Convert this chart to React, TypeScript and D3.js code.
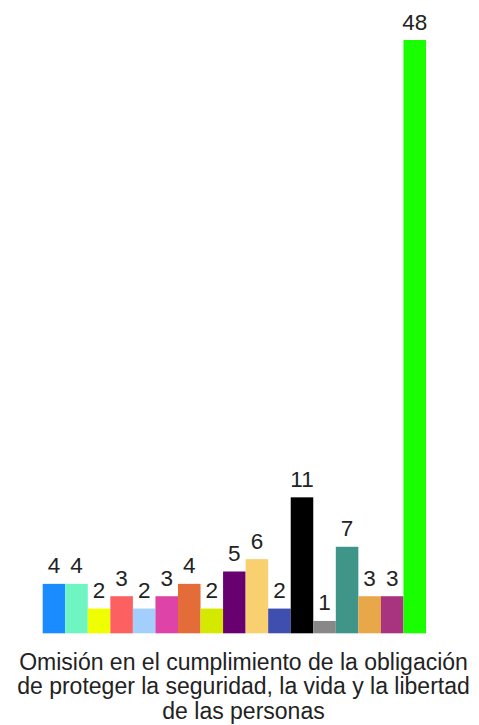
import React from "react";
import * as d3 from "d3";

const categories = ["c1","c2","c3","c4","c5","c6","c7","c8","c9","c10","c11","c12","c13","c14","c15","c16","c17"];
const values = [4, 4, 2, 3, 2, 3, 4, 2, 5, 6, 2, 11, 1, 7, 3, 3, 48];
const colors = ["#1a8cff","#6ef5c2","#f0ff00","#fd6060","#a3cffd","#de44a8","#e46c38","#d4e800","#690070","#f9d070","#3f4fb0","#000000","#888888","#3f9688","#e8a84a","#a83480","#19ff00"];
const titleLines = [
  "Omisión en el cumplimiento de la obligación",
  "de proteger la seguridad, la vida y la libertad",
  "de las personas",
];

export default function App() {
  const W = 479, H = 725;
  const x = d3.scaleBand<string>().domain(categories).range([42.7, 426]).padding(0);
  const y = d3.scaleLinear().domain([0, 48]).range([633.3, 40]);
  const font = "'Liberation Sans', Arial, sans-serif";
  return (
    <svg width={W} height={H} style={{ position: "absolute", left: 0, top: 0, background: "#fff" }}>
      {categories.map((c, i) => (
        <rect key={c} x={x(c)} y={y(values[i])} width={x.bandwidth()} height={y(0) - y(values[i])} fill={colors[i]} />
      ))}
      {categories.map((c, i) => (
        <text key={"l" + c} x={(x(c) as number) + x.bandwidth() / 2} y={y(values[i]) - 10.5}
          textAnchor="middle" fontFamily={font} fontSize={22.5} fill="#222">{values[i]}</text>
      ))}
      {titleLines.map((t, i) => (
        <text key={"t" + i} x={243.5} y={670 + i * 24.3} textAnchor="middle" fontFamily={font} fontSize={23} fill="#222">{t}</text>
      ))}
    </svg>
  );
}
